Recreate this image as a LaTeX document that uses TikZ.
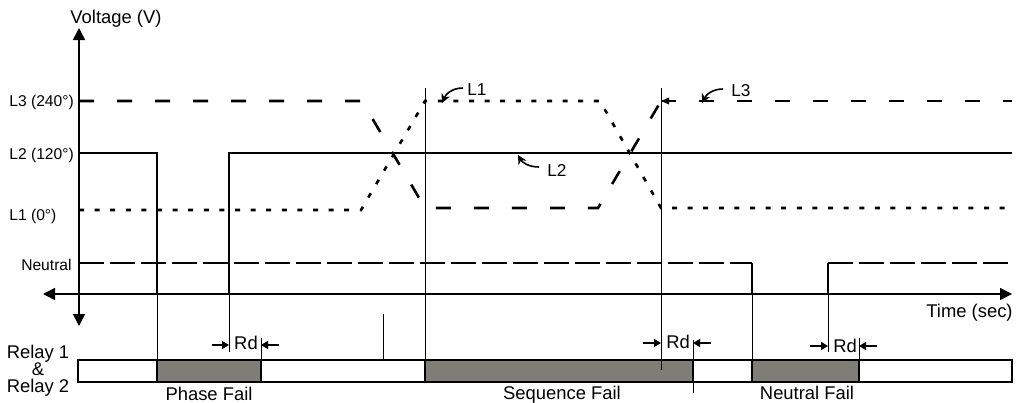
\documentclass[tikz,border=0pt]{standalone}
\usepackage{fontspec}
\setmainfont{Liberation Sans}
\usetikzlibrary{arrows.meta}
\definecolor{failgray}{RGB}{128,124,118}
\begin{document}
\begin{tikzpicture}[x=0.5pt,y=-0.5pt,
 big/.style={font=\fontsize{9.2}{11}\selectfont, inner sep=0pt},
 lvl/.style={font=\fontsize{7.8}{9}\selectfont, inner sep=0pt},
 ann/.style={font=\fontsize{8.6}{10}\selectfont, inner sep=0pt},
 axisline/.style={line width=0.8pt},
 sig/.style={line width=1.3pt},
 l3dash/.style={sig, dash pattern=on 7.5pt off 11.5pt},
 l1dot/.style={sig, dash pattern=on 2.5pt off 5.3pt},
 ndash/.style={sig, dash pattern=on 12.5pt off 3pt},
 thinline/.style={line width=0.5pt},
 barline/.style={line width=0.8pt},
 fail/.style={fill=failgray, draw=black, line width=0.8pt},
 rdarrow/.style={line width=0.6pt, -{Triangle[length=3.5pt,width=4pt]}},
 lblarrow/.style={line width=0.8pt, -{Stealth[length=4.5pt,width=4.5pt]}},
 axtip/.tip={Triangle[length=6pt,width=6pt]}
]
\useasboundingbox (0,0) rectangle (1031,402);

% axes
\draw[axisline, axtip-axtip] (79,28) -- (79,326);
\draw[axisline, axtip-axtip] (43,294) -- (1012,294);
\node[big, anchor=base] (vlab) at (116,23) {Voltage (V)};
\node[big, anchor=base east] (tlab) at (1013,317) {Time (sec)};

% level labels
\node[lvl, anchor=base west] (l3lvl) at (9,106) {L3 (240°)};
\node[lvl, anchor=base west] (l2lvl) at (9,159) {L2 (120°)};
\node[lvl, anchor=base west] (l1lvl) at (9,220) {L1 (0°)};
\node[lvl, anchor=base east] (nlvl) at (72,270) {Neutral};

% L2 (solid)
\draw[sig] (79,153) -- (157,153) -- (157,294);
\draw[sig] (229,294) -- (229,153) -- (1012,153);
% L3 (dashed)
\draw[l3dash] (79,101) -- (362,101) -- (425,208) -- (598,208) -- (661,101);
\draw[l3dash] (661,101) -- (1012,101);
\fill (661,101) -- (669,97.5) -- (669,104.5) -- cycle;
% L1 (dotted)
\draw[l1dot] (79,210) -- (361,210) -- (425,101) -- (600,101) -- (661,208) -- (1012,208);
% Neutral
\draw[ndash] (79,263) -- (752,263);
\draw[sig] (752,263) -- (752,294);
\draw[sig] (828,294) -- (828,263);
\draw[ndash] (828,263) -- (1012,263);

% annotation labels
\node[ann, anchor=base west] (l1ann) at (467,95) {L1};
\node[ann, anchor=base west] (l2ann) at (547,176) {L2};
\node[ann, anchor=base west] (l3ann) at (731,96) {L3};
\draw[lblarrow] (463,88) .. controls (452,88) and (446,94) .. (442,103);
\draw[lblarrow] (539,167) .. controls (528,167) and (522,162) .. (518,155);
\draw[lblarrow] (723,89) .. controls (712,89) and (706,95) .. (702,103);

% relay bar
\draw[barline, fill=white] (78,360) rectangle (1012,382);
\draw[fail] (157,360) rectangle (261,382);
\draw[fail] (425,360) rectangle (693,382);
\draw[fail] (752,360) rectangle (859,382);

% thin verticals
\draw[thinline] (157,294) -- (157,360);
\draw[thinline] (229,294) -- (229,352);
\draw[thinline] (261,338) -- (261,360);
\draw[thinline] (383,314) -- (383,360);
\draw[thinline] (425,88) -- (425,360);
\draw[thinline] (661,88) -- (661,370);
\draw[thinline] (693,340) -- (693,393);
\draw[thinline] (752,294) -- (752,360);
\draw[thinline] (828,294) -- (828,352);
\draw[thinline] (859,338) -- (859,360);

% Rd markers
\draw[rdarrow] (212,345) -- (229,345);
\draw[rdarrow] (279,345) -- (261,345);
\node[big, anchor=base] (rd1) at (246,349) {Rd};
\draw[rdarrow] (643,343) -- (661,343);
\draw[rdarrow] (711,343) -- (693,343);
\node[big, anchor=base] (rd2) at (678,348) {Rd};
\draw[rdarrow] (810,346) -- (828,346);
\draw[rdarrow] (877,346) -- (859,346);
\node[big, anchor=base] (rd3) at (845,352) {Rd};

% relay labels
\node[big, anchor=base] (relA) at (38,358) {Relay 1};
\node[big, anchor=base] (relAmp) at (38,375) {\&};
\node[big, anchor=base] (relB) at (38,392) {Relay 2};

% fail labels
\node[big, anchor=base] (pf) at (209,400) {Phase Fail};
\node[big, anchor=base] (sf) at (562,399) {Sequence Fail};
\node[big, anchor=base] (nf) at (807,399) {Neutral Fail};
\end{tikzpicture}
\end{document}
